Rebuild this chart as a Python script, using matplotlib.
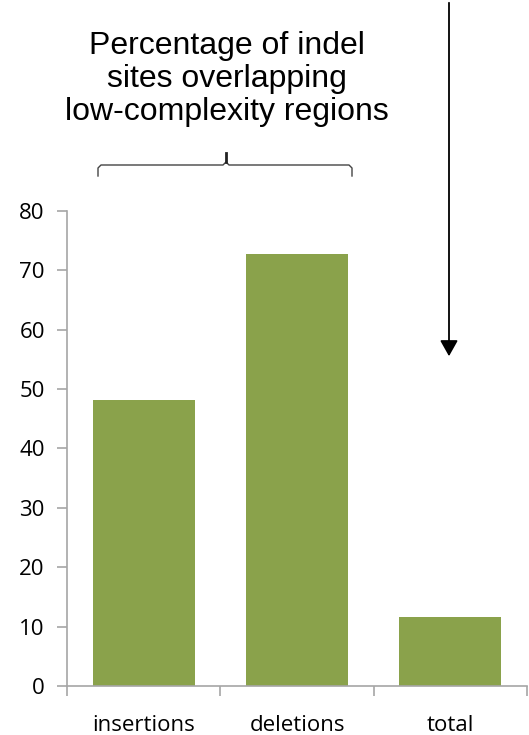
import matplotlib.pyplot as plt
from matplotlib.lines import Line2D
from matplotlib.patches import FancyArrowPatch
import numpy as np

# data
categories = ["insertions", "deletions", "total"]
values = [48.2, 72.8, 11.7]

bar_color = "#8aa24b"
grey = "#a6a6a6"

fig = plt.figure(figsize=(5.29, 7.35), dpi=100)
ax = fig.add_axes([0.1267, 0.0667, 0.8695, 0.6462])

x = np.arange(len(categories))
ax.bar(x, values, width=0.667, color=bar_color, zorder=2)

ax.set_xlim(-0.5, 2.5)
ax.set_ylim(0, 80)
ax.set_yticks(range(0, 81, 10))
ax.set_xticks(x)
ax.set_xticklabels(categories, fontfamily="Open Sans", fontsize=16)
ax.set_xticks(np.arange(-0.5, 2.6, 1), minor=True)
ax.tick_params(axis="x", which="major", length=0, pad=21)
ax.tick_params(axis="x", which="minor", length=7, color=grey, width=1.2)
ax.tick_params(axis="y", length=7, color=grey, width=1.2, pad=9)
for lab in ax.get_yticklabels():
    lab.set_fontfamily("Open Sans")
    lab.set_fontsize(16)

for s in ["top", "right"]:
    ax.spines[s].set_visible(False)
for s in ["left", "bottom"]:
    ax.spines[s].set_color(grey)
    ax.spines[s].set_linewidth(1.2)

# title text
W, H = 529, 735
fig.text(227 / W, 1 - 79 / H,
         "Percentage of indel\nsites overlapping\nlow-complexity regions",
         ha="center", va="center", fontsize=23, fontfamily="Liberation Sans",
         linespacing=1.13)

# bracket
def fx(px):
    return px / W

def fy(py):
    return 1 - py / H

bx = [98, 98, 101, 223, 226, 229, 349, 352, 352]
by = [176, 168, 165, 165, 162, 165, 165, 168, 176]
fig.add_artist(Line2D([fx(v) for v in bx], [fy(v) for v in by],
                      color="#444444", lw=1.0, transform=fig.transFigure))
fig.add_artist(Line2D([fx(226), fx(226)], [fy(162), fy(153)],
                      color="#222222", lw=2.0, transform=fig.transFigure))

# arrow
fig.add_artist(FancyArrowPatch(
    (fx(449), fy(0)), (fx(449), fy(359)), transform=fig.transFigure,
    arrowstyle="-|>,head_length=0.8,head_width=0.45", mutation_scale=12,
    color="black", lw=1.3))

fig.savefig("out.png", dpi=100)
